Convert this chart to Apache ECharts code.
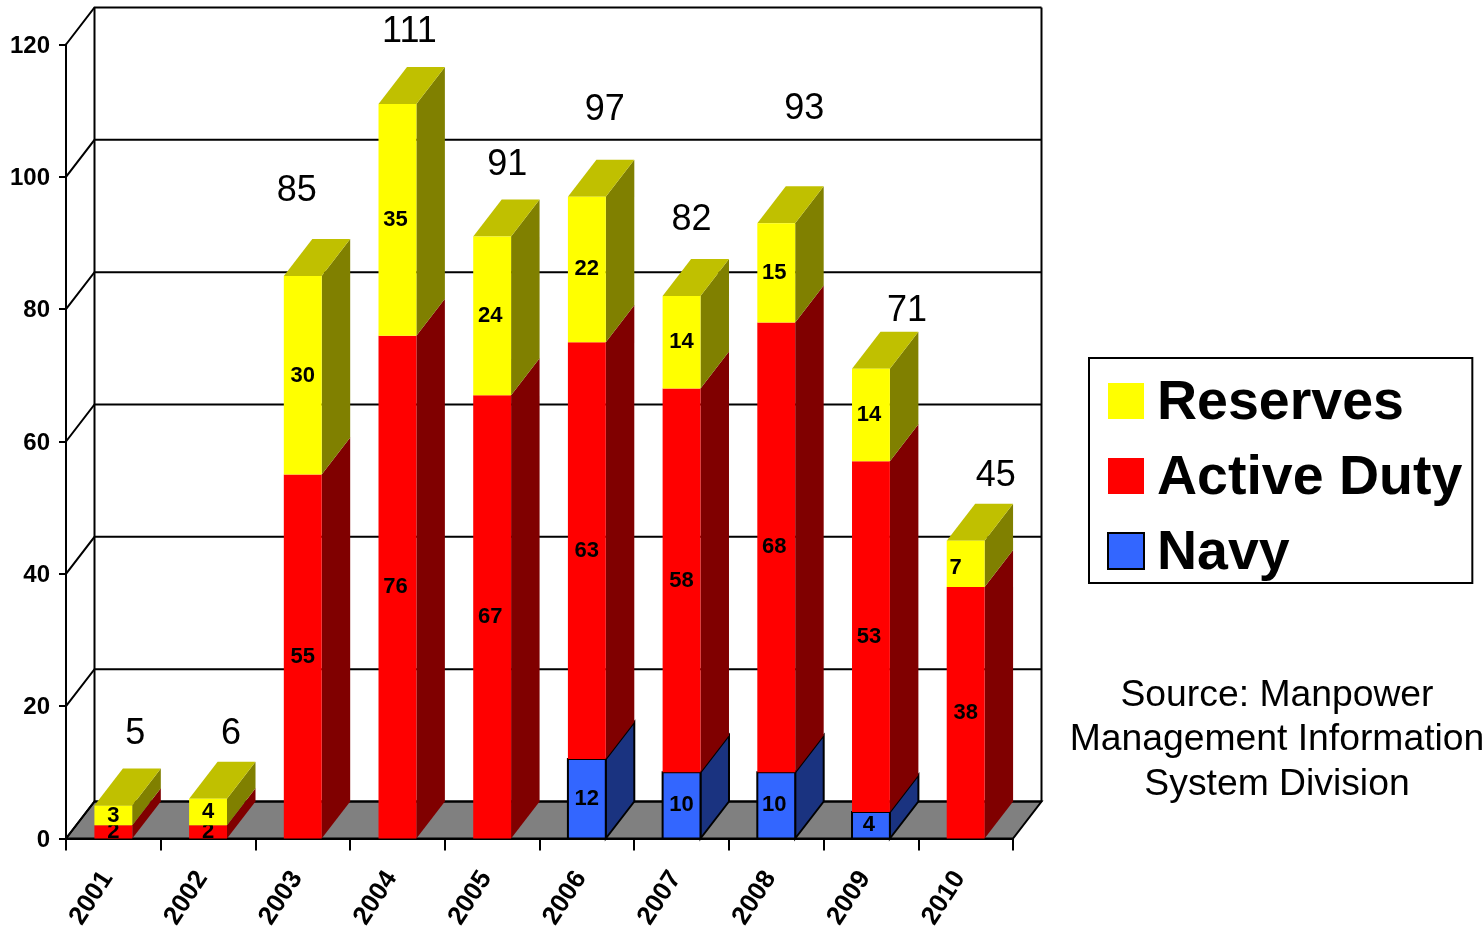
<!DOCTYPE html>
<html>
<head>
<meta charset="utf-8">
<style>html,body{margin:0;padding:0;background:#fff}#c{width:1483px;height:927px}</style>
<script src="https://cdn.jsdelivr.net/npm/echarts@6/dist/echarts.min.js"></script>
</head>
<body>
<div id="c"></div>
<script>
const years = ['2001','2002','2003','2004','2005','2006','2007','2008','2009','2010'];
const navy = [0,0,0,0,0,12,10,10,4,0];
const activeDuty = [2,2,55,76,67,63,58,68,53,38];
const reserves = [3,4,30,35,24,22,14,15,14,7];
const totals = [5,6,85,111,91,97,82,93,71,45];
const yTicks = [0,20,40,60,80,100,120];

// Layout: pseudo-3D depth, and hand-placed label nudges
const DX = 28.5, DY = 37, FONT = '"Liberation Sans", Arial, sans-serif';
const totalNudge = [[22,-71],[23,-65],[-6,-85],[12,-72],[15,-71],[18,-87],[10,-76],[28,-114],[36,-58],[30,-65]];
const segNudge = [0,0,0,-2,-2,0,0,-2,-2,0];
const reservesExtraX = [0,0,0,0,0,0,0,0,0,-10];
const reservesExtraY = [1,0,1,0,0,-1,0,0,0,4];

function barRender(colors, bases, isTop, stroke, extraX, extraY){
  return function(params, api){
    const i = api.value(0), v = api.value(1), base = bases[i];
    if(!v) return {type:'group',children:[]};
    const w = api.size([1,0])[0]*0.4;
    const p0 = api.coord([i, base]), p1 = api.coord([i, base+v]);
    const l = p0[0]-w/2, r = p0[0]+w/2, yb = p0[1], yt = p1[1];
    const st = stroke ? {stroke:'#000',lineWidth:2,lineJoin:'miter'} : {};
    const children = [
      {type:'polygon',shape:{points:[[r,yb],[r+DX,yb-DY],[r+DX,yt-DY],[r,yt]]},style:Object.assign({fill:colors[1]},st)}
    ];
    if(isTop){
      children.push({type:'polygon',shape:{points:[[l,yt],[l+DX,yt-DY],[r+DX,yt-DY],[r,yt]]},style:{fill:colors[2]}});
    }
    children.push({type:'rect',shape:{x:l,y:yt,width:w,height:yb-yt},style:Object.assign({fill:colors[0]},st)});
    children.push({type:'text',style:{x:p0[0]+segNudge[i]+(extraX?extraX[i]:0),y:(yb+yt)/2+(extraY?extraY[i]:0),text:String(v),fill:'#000',
      font:'bold 22px '+FONT,textAlign:'center',textVerticalAlign:'middle'}});
    return {type:'group',children};
  };
}
const activeBase = navy.slice();
const reservesBase = navy.map((n,i)=>n+activeDuty[i]);
const navyBase = navy.map(()=>0);

const option = {
  animation:false,
  backgroundColor:'#fff',
  textStyle:{fontFamily:FONT},
  title:{text:'Source: Manpower\nManagement Information\nSystem Division',left:1272,top:668,textAlign:'center',
    textStyle:{fontFamily:FONT,fontSize:37.3,fontWeight:'normal',color:'#000',lineHeight:44.5}},
  legend:{
    orient:'vertical',left:1089,top:358,padding:[12,10,1,18],itemGap:13,itemWidth:36,itemHeight:36,itemStyle:{borderWidth:0},
    icon:'rect',selectedMode:false,backgroundColor:'#fff',borderColor:'#000',borderWidth:2,
    formatter:'{t|{name}}',
    textStyle:{rich:{t:{fontFamily:FONT,fontSize:55.5,fontWeight:'bold',color:'#000',lineHeight:54,padding:[6,0,0,8]}}},
    data:[{name:'Reserves'},{name:'Active Duty'},{name:'Navy',itemStyle:{borderColor:'#000',borderWidth:2}}]
  },
  grid:{left:66,right:470,top:44.5,bottom:88.5,outerBoundsMode:'none'},
  xAxis:{type:'category',data:years,
    axisLine:{lineStyle:{color:'#000',width:2}},
    axisTick:{show:true,length:12,lineStyle:{color:'#000',width:2}},
    axisLabel:{rotate:57,fontFamily:FONT,fontSize:26,fontWeight:'bold',color:'#000',margin:26,interval:0,padding:[0,11,0,0]}},
  yAxis:{type:'value',min:0,max:120,interval:20,splitLine:{show:false},
    axisLine:{show:true,lineStyle:{color:'#000',width:2}},
    axisTick:{show:true,length:7,lineStyle:{color:'#000',width:2}},
    axisLabel:{margin:16,formatter:'{t|{value}}',rich:{t:{fontFamily:FONT,fontSize:24,fontWeight:'bold',color:'#000',padding:[3,0,0,0]}}}},
  series:[
    {type:'custom',name:'walls',silent:true,data:yTicks.map(t=>[t]),encode:{y:0},
      renderItem:function(params,api){
        const t = api.value(0), n = years.length;
        const half = api.size([1,0])[0]/2;
        const a = api.coord([0,t]), b = api.coord([n-1,t]);
        const x0 = a[0]-half, x1 = b[0]+half, y = a[1];
        const ch = [{type:'polyline',shape:{points:[[x0,y],[x0+DX,y-DY],[x1+DX,y-DY]]},style:{stroke:'#000',lineWidth:2,fill:null}}];
        if(t===0){
          ch.unshift({type:'polygon',shape:{points:[[x0,y],[x0+DX,y-DY],[x1+DX,y-DY],[x1,y]]},style:{fill:'#808080',stroke:'#000',lineWidth:2}});
          const top = api.coord([0,yTicks[yTicks.length-1]])[1]-DY;
          ch.push({type:'line',shape:{x1:x0+DX,y1:y-DY,x2:x0+DX,y2:top},style:{stroke:'#000',lineWidth:2}});
          ch.push({type:'line',shape:{x1:x1+DX,y1:y-DY,x2:x1+DX,y2:top},style:{stroke:'#000',lineWidth:2}});
        }
        return {type:'group',children:ch};
      }},
    {type:'custom',name:'Navy',itemStyle:{color:'#3366ff'},data:navy.map((v,i)=>[i,v]),encode:{x:0,y:1},
      renderItem:barRender(['#3366ff','#1a3380','#000'],navyBase,false,true)},
    {type:'custom',name:'Active Duty',itemStyle:{color:'#ff0000'},data:activeDuty.map((v,i)=>[i,v]),encode:{x:0,y:1},
      renderItem:barRender(['#ff0000','#800000','#000'],activeBase,false,false)},
    {type:'custom',name:'Reserves',itemStyle:{color:'#ffff00'},data:reserves.map((v,i)=>[i,v]),encode:{x:0,y:1},
      renderItem:barRender(['#ffff00','#808000','#c0c000'],reservesBase,true,false,reservesExtraX,reservesExtraY)},
    {type:'custom',name:'Total',silent:true,data:totals.map((v,i)=>[i,v]),encode:{x:0,y:1},
      renderItem:function(params,api){
        const i = api.value(0), v = api.value(1), p = api.coord([i,v]);
        return {type:'text',style:{x:p[0]+totalNudge[i][0],y:p[1]+totalNudge[i][1],text:String(v),fill:'#000',
          font:'36px '+FONT,textAlign:'center',textVerticalAlign:'middle'}};
      }}
  ]
};
const chart = echarts.init(document.getElementById('c'),null,{renderer:'canvas'});
chart.setOption(option);
</script>
</body>
</html>
